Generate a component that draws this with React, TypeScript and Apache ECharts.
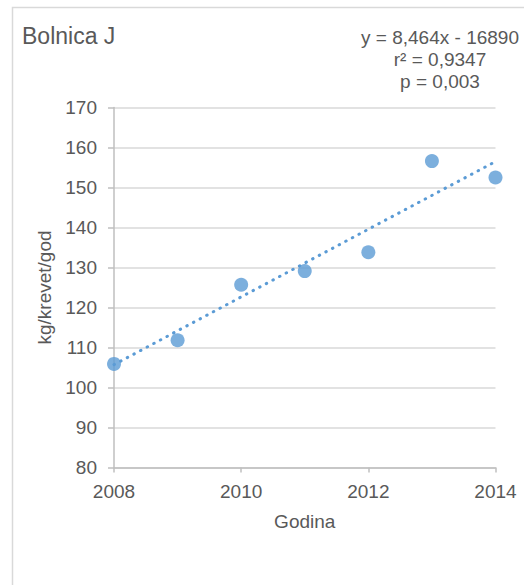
import React, { useEffect, useRef } from "react";
import * as echarts from "echarts";

const years = [2008, 2009, 2010, 2011, 2012, 2013, 2014];
const values = [105.9, 111.8, 125.7, 129.1, 133.8, 156.6, 152.5];
const trendSlope = 8.464;
const trendIntercept = -16890;
const equationLines = ["y = 8,464x - 16890", "r² = 0,9347", "p = 0,003"];
const titleText = "Bolnica J";
const xName = "Godina";
const yName = "kg/krevet/god";

const FONT = "'Liberation Sans', Arial, sans-serif";
const TEXT = "#595959";
const BLUE = "#5B9BD5";

export default function App() {
  const ref = useRef<HTMLDivElement>(null);
  useEffect(() => {
    if (!ref.current) return;
    const chart = echarts.init(ref.current, undefined, { renderer: "svg" });
    const x0 = years[0];
    const x1 = years[years.length - 1];
    const trend = [
      [x0, trendSlope * x0 + trendIntercept],
      [x1, trendSlope * x1 + trendIntercept],
    ];
    chart.setOption({
      animation: false,
      backgroundColor: "#ffffff",
      textStyle: { fontFamily: FONT },
      grid: { left: 114, right: 28.5, top: 107.5, bottom: 117.5 },
      xAxis: {
        type: "value",
        min: 2008,
        max: 2014,
        interval: 2,
        name: xName,
        nameLocation: "middle",
        nameGap: 44,
        nameTextStyle: { color: TEXT, fontSize: 19, fontFamily: FONT },
        axisLine: { show: true, lineStyle: { color: "#bfbfbf", width: 1.5 } },
        axisTick: { show: true, length: 5, lineStyle: { color: "#bfbfbf", width: 1.5 } },
        axisLabel: {
          color: TEXT,
          fontSize: 19,
          fontFamily: FONT,
          margin: 14,
          formatter: (v: number) => String(v),
        },
        splitLine: { show: false },
      },
      yAxis: {
        type: "value",
        min: 80,
        max: 170,
        interval: 10,
        name: yName,
        nameLocation: "middle",
        nameGap: 60,
        nameTextStyle: { color: TEXT, fontSize: 19, fontFamily: FONT },
        axisLine: { show: true, lineStyle: { color: "#bfbfbf", width: 1.5 } },
        axisTick: { show: true, length: 6, lineStyle: { color: "#bfbfbf", width: 1.5 } },
        axisLabel: { color: TEXT, fontSize: 19, fontFamily: FONT, margin: 17 },
        splitLine: { show: true, lineStyle: { color: "#d9d9d9", width: 1.5 } },
      },
      graphic: [
        {
          type: "rect",
          silent: true,
          shape: { x: 12.5, y: 7.5, width: 700, height: 800 },
          style: { fill: "none", stroke: "#d9d9d9", lineWidth: 1.5 },
          z: -1,
        },
        {
          type: "text",
          x: 22,
          y: 36,
          style: {
            text: titleText,
            fill: TEXT,
            font: `23px ${FONT}`,
            verticalAlign: "middle",
            align: "left",
          },
        },
        ...equationLines.map((t, i) => ({
          type: "text",
          x: 440,
          y: 37 + i * 22,
          style: {
            text: t,
            fill: TEXT,
            font: `19px ${FONT}`,
            align: "center",
            verticalAlign: "middle",
          },
        })),
      ],
      series: [
        {
          type: "line",
          data: trend,
          showSymbol: false,
          symbol: "none",
          lineStyle: { color: BLUE, width: 3, type: [0.5, 7], cap: "round" },
          z: 2,
          silent: true,
        },
        {
          type: "scatter",
          data: years.map((y, i) => [y, values[i]]),
          symbol: "circle",
          symbolSize: 14,
          itemStyle: { color: BLUE },
          z: 3,
        },
      ],
    });
    return () => chart.dispose();
  }, []);
  return (
    <div
      ref={ref}
      style={{ position: "absolute", left: 0, top: 0, width: 524, height: 585 }}
    />
  );
}
